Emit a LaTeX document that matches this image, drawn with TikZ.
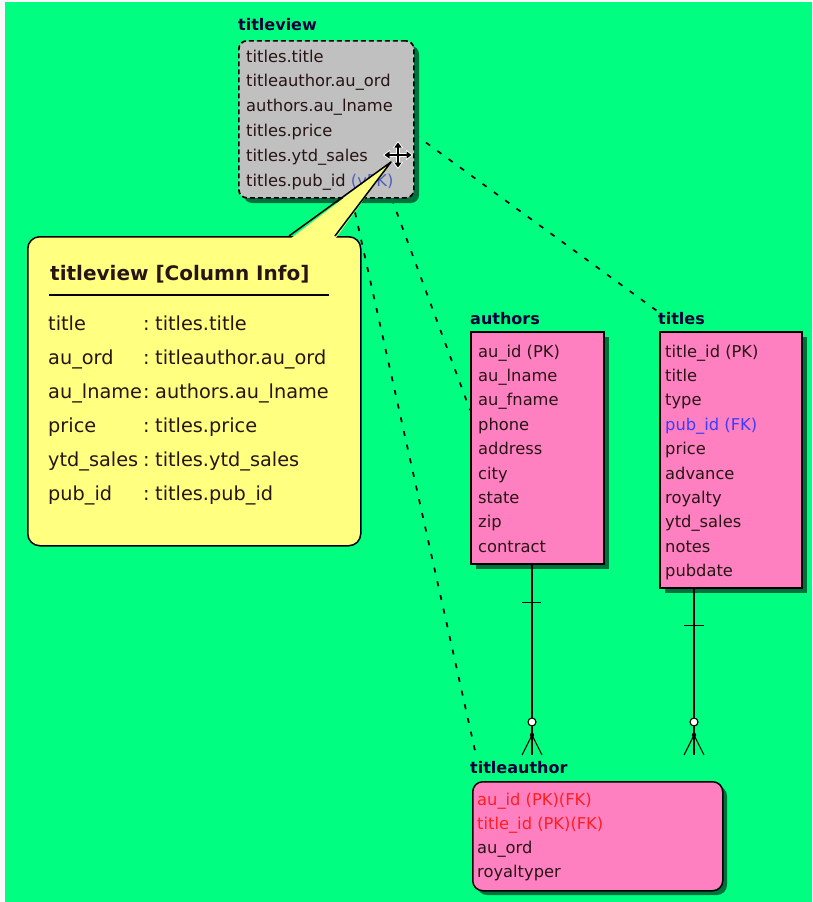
\documentclass[tikz,border=0pt]{standalone}
\usepackage{fontspec}
\setmainfont{DejaVu Sans}
\usetikzlibrary{calc,arrows.meta}
\definecolor{bggreen}{RGB}{0,255,128}
\definecolor{shadowgreen}{RGB}{0,112,60}
\definecolor{pinkbox}{RGB}{255,128,192}
\definecolor{graybox}{RGB}{192,192,192}
\definecolor{yellowbox}{RGB}{255,255,128}
\definecolor{keyred}{RGB}{255,30,30}
\definecolor{fkblue}{RGB}{60,60,255}
\definecolor{vfkblue}{RGB}{80,96,190}
\definecolor{navy}{RGB}{0,0,60}
\definecolor{txt}{RGB}{40,20,20}
\pgfdeclarelayer{bglayer}
\pgfsetlayers{bglayer,main}
\begin{document}
\begin{tikzpicture}[x=1pt,y=-1pt,
  tabtext/.style={anchor=base west, inner sep=0pt, font=\fontsize{16.3}{18}\selectfont, text=txt},
  tablabel/.style={anchor=base west, inner sep=0pt, font=\bfseries\fontsize{16}{18}\selectfont, text=navy},
  infotext/.style={anchor=base west, inner sep=0pt, font=\fontsize{19.3}{22}\selectfont, text=txt},
  entitybox/.style={draw=black, line width=1.5pt, fill=pinkbox, anchor=north west, inner sep=0pt},
  viewlink/.style={draw=black, line width=1.7pt, dash pattern=on 5pt off 9pt},
  rel/.style={draw=black, line width=1.4pt},
  foot/.style={draw=black, line width=1.1pt},
]
\useasboundingbox (0,0) rectangle (812,902);

% ---------- shadows ----------
\fill[shadowgreen, rounded corners=8pt] (244,46) rectangle (419,203);
\fill[shadowgreen] (476,337) rectangle (609,569);
\fill[shadowgreen] (665,337) rectangle (807,593);
\fill[shadowgreen, rounded corners=10pt] (477,786) rectangle (727,895);

% ---------- titleview ----------
\node[tablabel] (tvlabel) at (238,30) {titleview};
\node[draw=black, line width=1.7pt, dash pattern=on 5pt off 3pt, rounded corners=8pt, fill=graybox,
      minimum width=175pt, minimum height=157pt, anchor=north west, inner sep=0pt] (tv) at (238,40) {};
\foreach \t [count=\i from 0] in {titles.title, titleauthor.au\_ord, authors.au\_lname, titles.price, titles.ytd\_sales}
  \node[tabtext] (tv-r\i) at (246,62+24.8*\i) {\t};
\node[tabtext] (tv-r5) at (246,186) {titles.pub\_id \textcolor{vfkblue}{(vFK)}};

% ---------- authors ----------
\node[tablabel] (aulabel) at (470,324) {authors};
\node[entitybox, minimum width=133pt, minimum height=232pt] (au) at (470,331) {};
\foreach \t [count=\i from 0] in {au\_id (PK), au\_lname, au\_fname, phone, address, city, state, zip, contract}
  \node[tabtext] (au-r\i) at (478,357+24.4*\i) {\t};

% ---------- titles ----------
\node[tablabel] (tilabel) at (658,324) {titles};
\node[entitybox, minimum width=142pt, minimum height=256pt] (ti) at (659,331) {};
\foreach \t [count=\i from 0] in {title\_id (PK), title, type, {\textcolor{fkblue}{pub\_id (FK)}}, price, advance, royalty, ytd\_sales, notes, pubdate}
  \node[tabtext] (ti-r\i) at (665,357+24.4*\i) {\t};

% ---------- titleauthor ----------
\node[tablabel] (talabel) at (470,773) {titleauthor};
\node[entitybox, rounded corners=10pt, minimum width=250pt, minimum height=109pt] (tabox) at (472,781) {};
\node[tabtext, text=keyred] (ta-r0) at (477,805) {au\_id (PK)(FK)};
\node[tabtext, text=keyred] (ta-r1) at (477,829) {title\_id (PK)(FK)};
\node[tabtext] (ta-r2) at (477,853) {au\_ord};
\node[tabtext] (ta-r3) at (477,877) {royaltyper};

% ---------- background and view links ----------
\begin{pgfonlayer}{bglayer}
  \fill[bggreen] (0,0) rectangle (812,902);
  \fill[white!95!gray] (0,0) rectangle (4.5,902);
  \fill[white!95!gray] (0,0) rectangle (812,1.8);
  \draw[viewlink] ($(tv.east)+(0,15)$) -- (tilabel.north west);
  \draw[viewlink] ($(tv.south east)+(-23,0)$) -- ($(au.north west)+(0,79)$);
  \draw[viewlink] ($(tv.south west)+(114,0)$) -- ($(tabox.north west)+(4,-26)$);
\end{pgfonlayer}

% ---------- relationships ----------
\coordinate (aufoot) at ($(tabox.north west)+(60,-26)$);
\coordinate (aufork) at ($(aufoot)+(0,-20)$);
\coordinate (aucirc) at ($(aufoot)+(0,-33)$);
\draw[rel] ($(au.south west)+(62,0)$) -- ($(aucirc)+(0,-4)$);
\draw[rel] ($(au.south west)+(52,38)$) -- ($(au.south west)+(71,38)$);
\draw[rel] ($(aucirc)+(0,4)$) -- (aufork);
\draw[line width=1.1pt, fill=white] (aucirc) circle (4pt);
\fill (aufork) circle (2.2pt);
\draw[foot] (aufork) -- ($(aufoot)+(-10,0)$);
\draw[foot] (aufork) -- (aufoot);
\draw[foot] (aufork) -- ($(aufoot)+(10,0)$);

\coordinate (tifoot) at ($(tabox.north west)+(222,-26)$);
\coordinate (tifork) at ($(tifoot)+(0,-20)$);
\coordinate (ticirc) at ($(tifoot)+(0,-33)$);
\draw[rel] ($(ti.south west)+(35,0)$) -- ($(ticirc)+(0,-4)$);
\draw[rel] ($(ti.south west)+(25,37)$) -- ($(ti.south west)+(45,37)$);
\draw[rel] ($(ticirc)+(0,4)$) -- (tifork);
\draw[line width=1.1pt, fill=white] (ticirc) circle (4pt);
\fill (tifork) circle (2.2pt);
\draw[foot] (tifork) -- ($(tifoot)+(-10,0)$);
\draw[foot] (tifork) -- (tifoot);
\draw[foot] (tifork) -- ($(tifoot)+(10,0)$);

% ---------- callout ----------
\node[draw=black, line width=1.5pt, rounded corners=12pt, fill=yellowbox,
      minimum width=333pt, minimum height=309pt, anchor=north west, inner sep=0pt] (info) at (27,236) {};
\coordinate (tip) at (391,162);
\fill[yellowbox] ($(info.north west)+(263,3)$) -- (tip) -- ($(info.north west)+(308,3)$) -- cycle;
\draw[line width=1.5pt, line join=round] ($(info.north west)+(262,0)$) -- (tip) -- ($(info.north west)+(308,0)$);
\node[anchor=base west, inner sep=0pt, font=\bfseries\fontsize{20}{24}\selectfont, text=txt] (infotitle) at (50,280) {titleview [Column Info]};
\draw[line width=1.5pt] (49,295) -- (329,295);
\foreach \l/\v [count=\i from 0] in {title/titles.title, au\_ord/titleauthor.au\_ord, au\_lname/authors.au\_lname, price/titles.price, ytd\_sales/titles.ytd\_sales, pub\_id/titles.pub\_id}{
  \node[infotext] (info-l\i) at (48,330+34*\i) {\l};
  \node[infotext] (info-c\i) at (143,330+34*\i) {:};
  \node[infotext] (info-v\i) at (155,330+34*\i) {\v};
}

% ---------- move cursor ----------
\draw[white, line width=4pt, {Triangle[length=7pt,width=10pt]}-{Triangle[length=7pt,width=10pt]}] (383,155) -- (413,155);
\draw[white, line width=4pt, {Triangle[length=7pt,width=10pt]}-{Triangle[length=7pt,width=10pt]}] (398,141) -- (398,169);
\draw[black, line width=1.3pt, {Triangle[length=5pt,width=7pt]}-{Triangle[length=5pt,width=7pt]}] (384.5,155) -- (411.5,155);
\draw[black, line width=1.3pt, {Triangle[length=5pt,width=7pt]}-{Triangle[length=5pt,width=7pt]}] (398,142.5) -- (398,167.5);
\end{tikzpicture}
\end{document}
